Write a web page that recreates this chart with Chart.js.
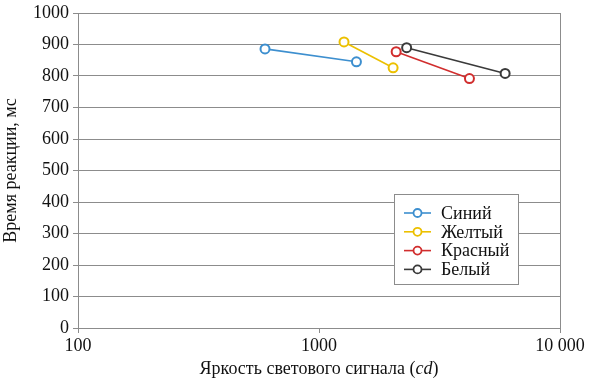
<!DOCTYPE html>
<html>
  <head>
    <meta charset="UTF-8" />
    <title>Время реакции</title>
    <style>
      body { margin: 0; background: #fff; }
      #wrap { width: 589px; height: 378px; }
    </style>
  </head>
  <body>
    <div id="wrap"><canvas id="chart" width="589" height="378"></canvas></div>

    <script src="https://cdn.jsdelivr.net/npm/chart.js"></script>
    <script>
      const seriesNames = ["Синий", "Желтый", "Красный", "Белый"];
      const seriesColors = ["#3d8fcf", "#ecc000", "#d12e2e", "#3a3a3a"];
      const blueX = [597, 1430];
      const blueY = [886, 845];
      const yellowX = [1270, 2030];
      const yellowY = [908, 826];
      const redX = [2090, 4210];
      const redY = [877, 792];
      const whiteX = [2310, 5920];
      const whiteY = [890, 808];
      const xTicks = [100, 1000, 10000];
      const xTitle = ["Яркость светового сигнала (", "cd", ")"];

      const allX = [blueX, yellowX, redX, whiteX];
      const allY = [blueY, yellowY, redY, whiteY];
      const FONT = "'Liberation Serif', 'Times New Roman', serif";
      const grey = "#8c8c8c";

      Chart.defaults.font.family = FONT;
      Chart.defaults.font.size = 18;
      Chart.defaults.color = "#111";

      const datasets = seriesNames.map((name, i) => ({
        label: name,
        data: allX[i].map((x, j) => ({ x: x, y: allY[i][j] })),
        borderColor: seriesColors[i],
        backgroundColor: "#ffffff",
        borderWidth: 1.6,
        pointRadius: 4.5,
        pointBorderWidth: 2,
        pointBackgroundColor: "#ffffff",
        showLine: true,
        tension: 0,
      }));

      // legend box inside the plot + x title with italic unit
      const extras = {
        id: "extras",
        afterDraw(chart) {
          const c = chart.ctx;
          const left = 394, top = 194, w = 124, h = 90;
          c.save();
          c.fillStyle = "#fff";
          c.fillRect(left, top, w, h);
          c.strokeStyle = grey;
          c.lineWidth = 1;
          c.strokeRect(left + 0.5, top + 0.5, w, h);
          c.font = "18px " + FONT;
          c.textBaseline = "middle";
          seriesNames.forEach((name, i) => {
            const y = top + 19 + i * 18.8;
            c.strokeStyle = seriesColors[i];
            c.lineWidth = 1.6;
            c.beginPath();
            c.moveTo(404, y);
            c.lineTo(431, y);
            c.stroke();
            c.beginPath();
            c.arc(417.5, y, 4, 0, Math.PI * 2);
            c.fillStyle = "#fff";
            c.fill();
            c.lineWidth = 1.8;
            c.stroke();
            c.fillStyle = "#111";
            c.fillText(name, 441, y + 1);
          });

          // x axis title
          const fonts = ["18px " + FONT, "italic 18px " + FONT, "18px " + FONT];
          let total = 0;
          const widths = xTitle.map((t, i) => {
            c.font = fonts[i];
            const m = c.measureText(t).width;
            total += m;
            return m;
          });
          const ca = chart.chartArea;
          let x = (ca.left + ca.right) / 2 - total / 2;
          c.textAlign = "left";
          c.fillStyle = "#111";
          xTitle.forEach((t, i) => {
            c.font = fonts[i];
            c.fillText(t, x, 369);
            x += widths[i];
          });
          c.restore();
        },
      };

      new Chart(document.getElementById("chart"), {
        type: "scatter",
        data: { datasets: datasets },
        plugins: [extras],
        options: {
          responsive: false,
          animation: false,
          layout: { padding: { top: -1, right: 29, left: 0, bottom: 0 } },
          plugins: {
            legend: { display: false },
            tooltip: { enabled: false },
          },
          scales: {
            x: {
              type: "logarithmic",
              min: 100,
              max: 10000,
              afterBuildTicks: (s) => {
                s.ticks = xTicks.map((v) => ({ value: v }));
              },
              afterFit: (s) => { s.height = 50; },
              ticks: {
                autoSkip: false,
                maxRotation: 0,
                font: { family: FONT, size: 18 },
                padding: 2,
                callback: (v) => (v === 10000 ? "10 000" : String(v)),
              },
              grid: {
                color: (ctx) => (ctx.tick && ctx.tick.value === 10000 ? grey : "transparent"),
                tickColor: grey,
                tickLength: 5,
              },
              border: { color: grey },
            },
            y: {
              min: 0,
              max: 1000,
              afterFit: (s) => { s.width = 78; },
              ticks: {
                stepSize: 100,
                font: { family: FONT, size: 18, lineHeight: 1 },
                padding: 4,
                callback: (v) => String(v),
              },
              grid: { color: grey, tickColor: grey, tickLength: 5 },
              border: { color: grey },
              title: {
                display: true,
                text: "Время реакции, мс",
                font: { family: FONT, size: 18 },
                padding: { top: 0, bottom: 2 },
              },
            },
          },
        },
      });
    </script>
  </body>
</html>
